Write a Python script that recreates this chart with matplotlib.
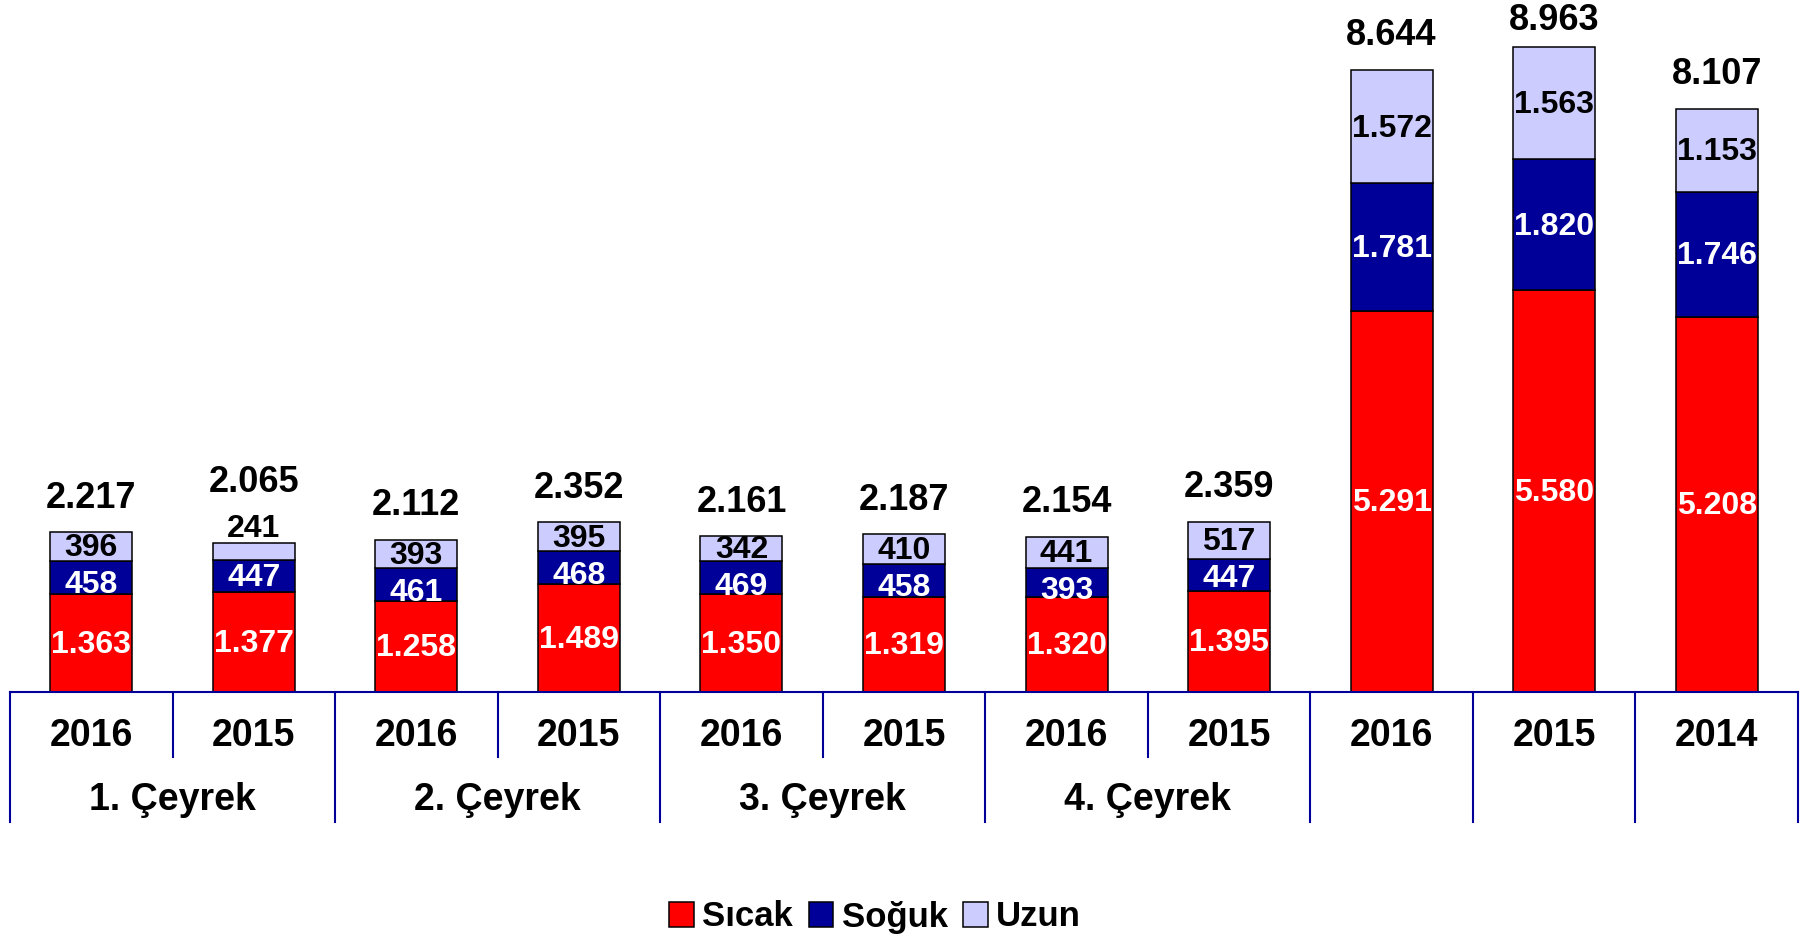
import matplotlib.pyplot as plt
from matplotlib.transforms import blended_transform_factory
from matplotlib.patches import Patch

plt.rcParams['font.family'] = ['Liberation Sans', 'DejaVu Sans']
plt.rcParams['font.weight'] = 'bold'

# data (values shown on the chart, Turkish thousand separator)
years = ['2016', '2015', '2016', '2015', '2016', '2015', '2016', '2015', '2016', '2015', '2014']
quarters = ['1. Çeyrek', '2. Çeyrek', '3. Çeyrek', '4. Çeyrek']
sicak = [1363, 1377, 1258, 1489, 1350, 1319, 1320, 1395, 5291, 5580, 5208]
soguk = [458, 447, 461, 468, 469, 458, 393, 447, 1781, 1820, 1746]
uzun = [396, 241, 393, 395, 342, 410, 441, 517, 1572, 1563, 1153]
totals = [2217, 2065, 2112, 2352, 2161, 2187, 2154, 2359, 8644, 8963, 8107]

red = '#FF0000'
navy = '#000099'
lilac = '#CCCCFF'


def fmt(v):
    return f'{v:,}'.replace(',', '.')


W, H = 1801, 936
fig = plt.figure(figsize=(W / 100, H / 100), dpi=100)
base_px = 691.5
ax = fig.add_axes([10 / W, 1 - base_px / H, 1788 / W, base_px / H])
px_per_unit = 0.0719
ymax = base_px / px_per_unit
ax.set_ylim(0, ymax)
ax.set_xlim(-0.5, len(years) - 0.5)

x = list(range(len(years)))
bottom2 = [a + b for a, b in zip(sicak, soguk)]
ax.bar(x, sicak, width=0.505, color=red, edgecolor='black', linewidth=1.1, label='Sıcak')
ax.bar(x, soguk, width=0.505, bottom=sicak, color=navy, edgecolor='black', linewidth=1.1, label='Soğuk')
ax.bar(x, uzun, width=0.505, bottom=bottom2, color=lilac, edgecolor='black', linewidth=1.1, label='Uzun')

lab = dict(fontsize=23, fontweight='bold', ha='center', va='center')
u = 1 / px_per_unit  # data units per pixel
for i in x:
    s, b, z, t = sicak[i], soguk[i], uzun[i], totals[i]
    ax.text(i, s / 2 - 2 * u, fmt(s), color='white', **lab)
    top = s + b + z
    # uzun label: inside if it fits, otherwise above the bar
    if z * px_per_unit < 22:
        uy = top + 14 * u
        tot_y = uy + 47 * u
    else:
        uy = s + b + z / 2 - 2 * u
        tot_y = top + 34 * u
    tot_y = min(tot_y, ymax - 20 * u)
    ax.text(i, uy, fmt(z), color='black', **lab)
    by = min(s + b / 2 - 2 * u, uy - 37 * u)
    ax.text(i, by, fmt(b), color='white', **lab)
    ax.text(i, tot_y, fmt(t), color='black', fontsize=26, fontweight='bold',
            ha='center', va='center')

for sp in ['top', 'right', 'left']:
    ax.spines[sp].set_visible(False)
ax.spines['bottom'].set_color(navy)
ax.spines['bottom'].set_linewidth(1.5)
ax.set_xticks([])
ax.set_yticks([])

tr = blended_transform_factory(ax.transData, fig.transFigure)
y_short = 1 - 757 / H
y_long = 1 - 822 / H
y0 = 1 - base_px / H
for k in range(len(years) + 1):
    xs = k - 0.5
    short = xs in (0.5, 2.5, 4.5, 6.5)
    ax.plot([xs, xs], [y0, y_short if short else y_long], color=navy, lw=1.5,
            transform=tr, clip_on=False)

for i, yr in enumerate(years):
    ax.text(i, 1 - 736 / H, yr, transform=tr, fontsize=27, fontweight='bold',
            ha='center', va='center')
for q, name in enumerate(quarters):
    ax.text(2 * q + 0.5, 1 - 800 / H, name, transform=tr, fontsize=27,
            fontweight='bold', ha='center', va='center')

handles = [Patch(facecolor=c, edgecolor='black', linewidth=1.1) for c in (red, navy, lilac)]
fig.legend(handles, ['Sıcak', 'Soğuk', 'Uzun'], loc='center', bbox_to_anchor=(0.486, 1 - 917 / H),
           ncol=3, frameon=False, prop={'size': 25, 'weight': 'bold'},
           handlelength=0.7, handleheight=0.7, handletextpad=0.25, columnspacing=0.45,
           borderaxespad=0, borderpad=0)

fig.savefig('out.png', dpi=100)
